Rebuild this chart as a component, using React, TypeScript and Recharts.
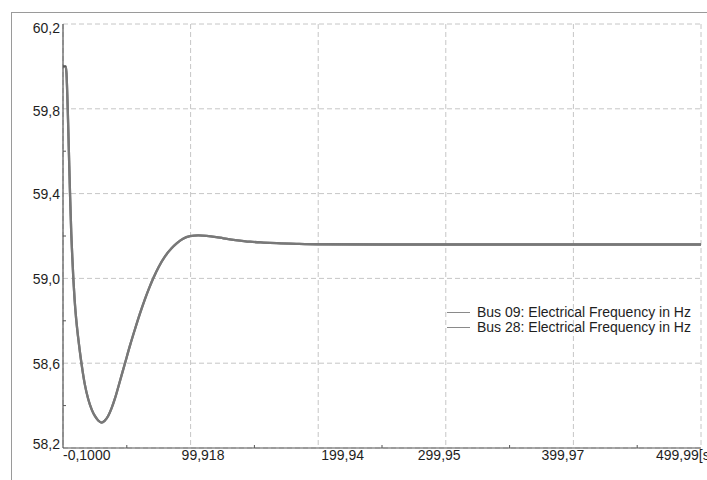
import React from 'react';
import { LineChart, Line, XAxis, YAxis, CartesianGrid, Legend } from 'recharts';

// Simulation time in seconds
const timeSeconds = [
  -0.1, 2.0, 2.6, 3.6, 4.5, 5.4, 6.4, 7.2, 8.0, 9.0, 10.2, 11.6, 13.0, 14.6, 17.0, 19.7, 22.5,
  25.0, 27.5, 30.0, 32.5, 35.4, 38.0, 40.7, 44.5, 48.5, 52.5, 56.3, 60.0, 64.0, 67.5, 71.0,
  75.0, 80.0, 85.0, 89.0, 94.0, 99.4, 106.0, 112.5, 120.0, 125.6, 135.0, 146.5, 157.0, 167.4,
  183.0, 198.8, 250.0, 300.0, 400.0, 499.99,
];

// Electrical frequency at bus 09 (Hz)
const bus09Hz = [
  60.0, 60.0, 59.97, 59.8, 59.6, 59.4, 59.21, 59.1, 59.0, 58.9, 58.81, 58.73, 58.66, 58.59,
  58.5, 58.43, 58.38, 58.35, 58.33, 58.32, 58.328, 58.352, 58.388, 58.435, 58.515, 58.6, 58.685,
  58.76, 58.83, 58.9, 58.955, 59.005, 59.055, 59.105, 59.142, 59.165, 59.187, 59.199, 59.203,
  59.201, 59.195, 59.189, 59.181, 59.173, 59.169, 59.166, 59.163, 59.161, 59.16, 59.16, 59.16,
  59.16,
];

// Electrical frequency at bus 28 (Hz)
const bus28Hz = [
  60.0, 60.0, 59.97, 59.8, 59.6, 59.4, 59.21, 59.1, 59.0, 58.9, 58.81, 58.73, 58.66, 58.59,
  58.5, 58.43, 58.38, 58.35, 58.33, 58.32, 58.328, 58.352, 58.388, 58.435, 58.515, 58.6, 58.685,
  58.76, 58.83, 58.9, 58.955, 59.005, 59.055, 59.105, 59.142, 59.165, 59.187, 59.199, 59.203,
  59.201, 59.195, 59.189, 59.181, 59.173, 59.169, 59.166, 59.163, 59.161, 59.16, 59.16, 59.16,
  59.16,
];

const seriesNames = ['Bus 09: Electrical Frequency in Hz', 'Bus 28: Electrical Frequency in Hz'];

const xTickValues = [-0.1, 99.918, 199.94, 299.95, 399.97, 499.99];
const xTickLabels = ['-0,1000', '99,918', '199,94', '299,95', '399,97', '499,99[s]'];
const xMinorTicks = [49.909, 149.929, 249.945, 349.96, 449.98];

const yTickValues = [58.2, 58.6, 59.0, 59.4, 59.8, 60.2];
const yTickLabels = ['58,2', '58,6', '59,0', '59,4', '59,8', '60,2'];
const yMinorTicks = [58.4, 58.8, 59.2, 59.6, 60.0];

const chartData = timeSeconds.map((t, i) => ({ t, bus09: bus09Hz[i], bus28: bus28Hz[i] }));

const FONT = '"Liberation Sans", Arial, sans-serif';
const TEXT = '#1e1e1e';
const AXIS = '#555555';
const LINE = '#787878';

// label placement tweaks (start offset for x labels, baseline offset for y labels)
const xLabelDx = [0, -9, 3, -28, -32, -45];
const yLabelDy = [0.5, 5.5, 5.5, 5.5, 7.5, 9];

const XTick = (props: any) => {
  const { x, y, payload } = props;
  const idx = xTickValues.indexOf(payload.value);
  if (idx < 0) {
    return <line x1={x} y1={y} x2={x} y2={y - 3} stroke={AXIS} strokeWidth={1} />;
  }
  return (
    <text x={x + xLabelDx[idx]} y={y + 12} textAnchor="start" fontFamily={FONT} fontSize={14} fill={TEXT}>
      {xTickLabels[idx]}
    </text>
  );
};

const YTick = (props: any) => {
  const { x, y, payload } = props;
  const idx = yTickValues.indexOf(payload.value);
  if (idx < 0) {
    return <line x1={x} y1={y} x2={x + 3} y2={y} stroke={AXIS} strokeWidth={1} />;
  }
  return (
    <text x={x - 3} y={y + yLabelDy[idx]} textAnchor="end" fontFamily={FONT} fontSize={14} fill={TEXT}>
      {yTickLabels[idx]}
    </text>
  );
};

const LegendBox = () => (
  <div style={{ fontFamily: FONT, fontSize: 14, color: TEXT, lineHeight: '15px' }}>
    {seriesNames.map((name) => (
      <div key={name} style={{ display: 'flex', alignItems: 'center', whiteSpace: 'nowrap' }}>
        <span style={{ display: 'inline-block', width: 23, height: 0, borderTop: '1px solid #8a8a8a', marginRight: 7 }} />
        <span>{name}</span>
      </div>
    ))}
  </div>
);

export default function App() {
  return (
    <div style={{ position: 'absolute', left: 0, top: 0, width: 707, height: 480, overflow: 'hidden', background: '#fff' }}>
      <div
        style={{
          position: 'absolute',
          left: 11,
          top: 12,
          width: 720,
          height: 500,
          borderLeft: '1px solid #9a9a9a',
          borderTop: '1px solid #9a9a9a',
        }}
      />
      <div style={{ position: 'absolute', left: 0, top: 0 }}>
        <LineChart width={707} height={480} data={chartData} margin={{ top: 24, right: 6, bottom: 0, left: 8 }}>
          <CartesianGrid
            stroke="#c6c6c6"
            strokeDasharray="5 3"
            horizontalValues={yTickValues}
            verticalValues={xTickValues}
          />
          <XAxis
            dataKey="t"
            type="number"
            domain={[-0.1, 499.99]}
            ticks={[...xTickValues, ...xMinorTicks].sort((a, b) => a - b)}
            interval={0}
            tick={<XTick />}
            tickLine={false}
            tickSize={0}
            tickMargin={0}
            height={32}
            axisLine={{ stroke: AXIS, strokeWidth: 1.2 }}
            allowDataOverflow
          />
          <YAxis
            type="number"
            domain={[58.2, 60.2]}
            ticks={[...yTickValues, ...yMinorTicks].sort((a, b) => a - b)}
            interval={0}
            tick={<YTick />}
            tickLine={false}
            tickSize={0}
            tickMargin={0}
            width={55}
            axisLine={{ stroke: AXIS, strokeWidth: 1.2 }}
            allowDataOverflow
          />
          <Legend
            layout="vertical"
            verticalAlign="middle"
            align="center"
            content={<LegendBox />}
            wrapperStyle={{ left: 447, top: 305, width: 260 }}
          />
          <Line
            dataKey="bus09"
            name={seriesNames[0]}
            type="monotone"
            stroke={LINE}
            strokeWidth={2.3}
            dot={false}
            isAnimationActive={false}
          />
          <Line
            dataKey="bus28"
            name={seriesNames[1]}
            type="monotone"
            stroke={LINE}
            strokeWidth={2.3}
            dot={false}
            isAnimationActive={false}
          />
        </LineChart>
      </div>
    </div>
  );
}
